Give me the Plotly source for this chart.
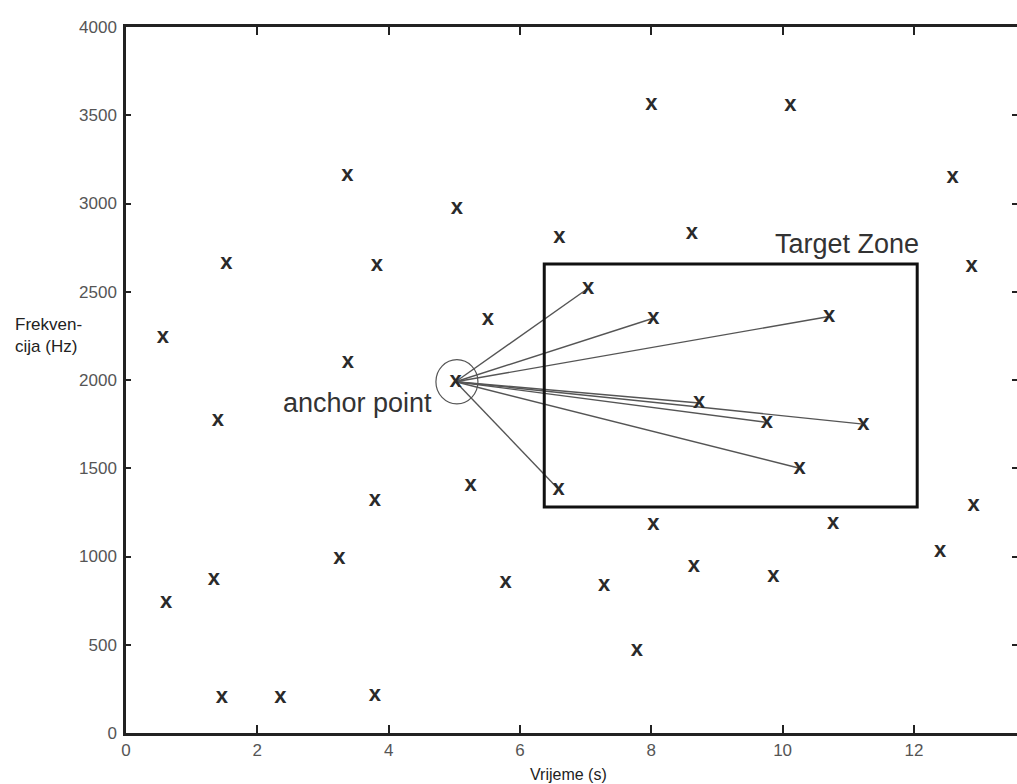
import plotly.graph_objects as go

# ---- data ----
other_time = [0.61, 0.56, 1.34, 1.40, 1.53, 1.46, 2.35, 3.25, 3.37, 3.38, 3.82, 3.79, 3.79,
              5.04, 5.51, 5.25, 5.78, 6.60, 7.28, 7.78, 8.00, 8.03, 8.62, 8.65, 9.86,
              10.12, 10.77, 12.40, 12.59, 12.88, 12.91]
other_freq = [740, 2240, 870, 1770, 2660, 200, 200, 990, 3160, 2100, 2650, 1320, 215,
              2970, 2345, 1400, 855, 2810, 833, 465, 3560, 1180, 2830, 945, 885,
              3555, 1185, 1030, 3150, 2645, 1290]

anchor_time = 5.02
anchor_freq = 1990

target_time = [7.04, 8.03, 10.71, 8.73, 9.76, 11.23, 10.26, 6.59]
target_freq = [2520, 2350, 2360, 1870, 1760, 1750, 1500, 1380]

zone_time = [6.37, 12.05]
zone_freq = [1280, 2657]

x_ticks = [0, 2, 4, 6, 8, 10, 12]
y_ticks = [0, 500, 1000, 1500, 2000, 2500, 3000, 3500, 4000]

FONT = "Liberation Sans, Arial, sans-serif"
MARK = "#2a2a2a"

fig = go.Figure()

# connection lines anchor -> targets
lx, ly = [], []
for tx, ty in zip(target_time, target_freq):
    lx += [anchor_time, tx, None]
    ly += [anchor_freq, ty, None]
fig.add_trace(go.Scatter(x=lx, y=ly, mode="lines",
                         line=dict(color="#555555", width=1.4),
                         hoverinfo="skip", showlegend=False))

all_x = other_time + target_time + [anchor_time]
all_y = other_freq + target_freq + [anchor_freq]
fig.add_trace(go.Scatter(x=all_x, y=all_y, mode="text", text=["x"] * len(all_x),
                         textposition="middle center",
                         textfont=dict(family=FONT, size=22, color=MARK, weight="bold"),
                         showlegend=False))

# target zone rectangle
fig.add_shape(type="rect", xref="x", yref="y",
              x0=zone_time[0], x1=zone_time[1], y0=zone_freq[0], y1=zone_freq[1],
              line=dict(color="#111111", width=3))
# circle around anchor
fig.add_shape(type="circle", xref="x", yref="y",
              x0=anchor_time - 0.30, x1=anchor_time + 0.34,
              y0=anchor_freq - 125, y1=anchor_freq + 125,
              line=dict(color="#555555", width=1.2))

fig.add_annotation(x=zone_time[1], y=zone_freq[1], xanchor="right", yanchor="bottom",
                   text="Target Zone", showarrow=False, yshift=3, xshift=4,
                   font=dict(family=FONT, size=27, color="#333333"))
fig.add_annotation(x=anchor_time - 0.33, y=anchor_freq - 120, xanchor="right",
                   text="anchor point", showarrow=False,
                   font=dict(family=FONT, size=27, color="#333333"))

# axis titles as annotations
fig.add_annotation(xref="paper", yref="paper", x=-0.127, y=0.563, xanchor="left", yanchor="middle",
                   text="Frekven-<br>cija (Hz)", showarrow=False, align="left",
                   font=dict(family=FONT, size=17, color="#222222"))
fig.add_annotation(xref="paper", yref="paper", x=0.497, y=-0.044, yanchor="top",
                   text="Vrijeme (s)", showarrow=False,
                   font=dict(family=FONT, size=16, color="#222222"))

fig.update_xaxes(range=[0, 13.57], tickvals=x_ticks, ticktext=[str(v) for v in x_ticks],
                 ticks="inside", ticklen=8, tickwidth=2, tickcolor="#222222",
                 showline=True, linewidth=2.5, linecolor="#222222", mirror="ticks",
                 showgrid=False, zeroline=False,
                 tickfont=dict(family=FONT, size=17, color="#555555"))
fig.update_yaxes(range=[0, 4000], tickvals=y_ticks, ticktext=[str(v) for v in y_ticks],
                 ticks="inside", ticklen=5, tickwidth=2, tickcolor="#222222",
                 showline=True, linewidth=2.5, linecolor="#222222", mirror="ticks",
                 showgrid=False, zeroline=False, ticklabelstandoff=3,
                 tickfont=dict(family=FONT, size=17, color="#555555"))

fig.update_layout(width=1021, height=784,
                  margin=dict(l=126, r=1, t=27, b=51),
                  plot_bgcolor="white", paper_bgcolor="white",
                  font=dict(family=FONT))

fig.write_html("out.html", config={"displayModeBar": False},
               post_script="document.body.style.margin='0';document.body.style.overflow='hidden';")
